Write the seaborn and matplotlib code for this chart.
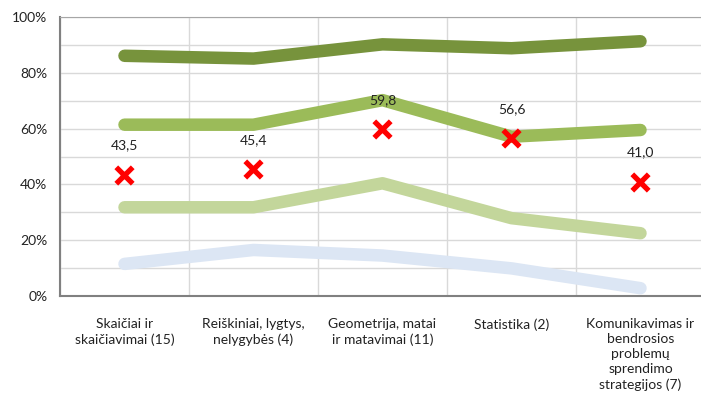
import numpy as np
import pandas as pd
import matplotlib
matplotlib.use("Agg")
import matplotlib.pyplot as plt
from matplotlib.ticker import MultipleLocator, FixedLocator
import seaborn as sns

# data
categories = ["Skaičiai ir\nskaičiavimai (15)",
              "Reiškiniai, lygtys,\nnelygybės (4)",
              "Geometrija, matai\nir matavimai (11)",
              "Statistika (2)",
              "Komunikavimas ir\nbendrosios\nproblemų\nsprendimo\nstrategijos (7)"]
level_top = [86.1, 85.1, 90.2, 88.8, 91.3]
level_high = [61.4, 61.4, 70.2, 57.1, 59.5]
level_mid = [31.8, 31.8, 40.4, 27.9, 22.5]
level_low = [11.5, 16.5, 14.5, 9.9, 2.8]
series_names = ["top", "high", "mid", "low"]
series_colors = ["#77933C", "#9BBB59", "#C3D69B", "#DCE6F4"]
avg_values = [43.5, 45.4, 59.8, 56.6, 41.0]
avg_labels = ["43,5", "45,4", "59,8", "56,6", "41,0"]

sns.set_style("white")
plt.rcParams['font.family'] = ['Lato', 'DejaVu Sans']

x = np.arange(len(categories))
df = pd.DataFrame({
    'x': np.tile(x, 4),
    'value': level_top + level_high + level_mid + level_low,
    'series': np.repeat(series_names, len(categories)),
})

fig = plt.figure(figsize=(7.01, 4.0), dpi=100)
ax = fig.add_axes([60 / 701, 104 / 400, 645 / 701, 279 / 400])

# draw lowest series first so darker ones sit on top
for name, color in zip(series_names[::-1], series_colors[::-1]):
    sub = df[df['series'] == name]
    sns.lineplot(data=sub, x='x', y='value', ax=ax, color=color, lw=9,
                 sort=False, solid_capstyle='round', solid_joinstyle='round',
                 legend=False)

pts = pd.DataFrame({'x': x, 'value': avg_values})
sns.scatterplot(data=pts, x='x', y='value', ax=ax, marker='x', s=140,
                color='#FF0000', linewidth=3.8, zorder=5)
for xi, v, lab in zip(x, avg_values, avg_labels):
    ax.annotate(lab, (xi, v), xytext=(0, 21), textcoords='offset points',
                ha='center', va='center', fontsize=10, color='#222222')

ax.set_xlim(-0.5, len(categories) - 0.5)
ax.set_ylim(0, 100)
ax.set_xticks(x)
ax.set_xticklabels(categories, fontsize=10, color='#222222', linespacing=1.3)
ax.xaxis.set_minor_locator(FixedLocator(np.arange(-0.5, len(categories), 1.0)))
ax.yaxis.set_major_locator(MultipleLocator(20))
ax.yaxis.set_minor_locator(MultipleLocator(10))
ax.set_yticklabels([f"{int(t)}%" for t in ax.get_yticks()], fontsize=10, color='#222222')
ax.tick_params(axis='x', which='major', length=0, pad=16)
ax.tick_params(axis='x', which='minor', length=5, color='#808080', width=1.2)
ax.tick_params(axis='y', which='major', length=5, color='#808080', width=1.2, pad=4)
ax.tick_params(axis='y', which='minor', length=0)
ax.grid(True, axis='y', which='both', color='#D9D9D9', lw=1.0)
ax.grid(True, axis='x', which='minor', color='#D9D9D9', lw=1.0)
ax.set_axisbelow(True)
ax.set_xlabel('')
ax.set_ylabel('')
for side in ['left', 'bottom']:
    ax.spines[side].set_color('#808080')
    ax.spines[side].set_linewidth(1.5)
ax.spines['top'].set_color('#A6A6A6')
ax.spines['right'].set_visible(False)

fig.savefig('out.png', dpi=100)
